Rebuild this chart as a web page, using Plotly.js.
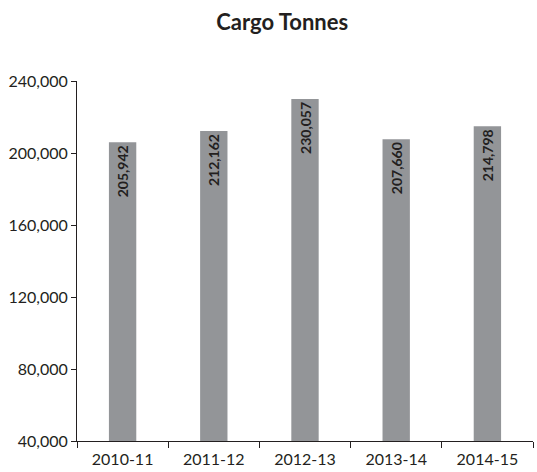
<!DOCTYPE html>
<html>
<head>
<meta charset="utf-8">
<script src="https://cdn.plot.ly/plotly-3.0.1.min.js"></script>
<style>html,body{margin:0;padding:0;background:#fff;}#chart{width:537px;height:472px;}</style>
</head>
<body>
<div id="chart"></div>
<script>
var categories = ["2010-11", "2011-12", "2012-13", "2013-14", "2014-15"];
var cargoTonnes = [205942, 212162, 230057, 207660, 214798];
var barLabels = ["205,942", "212,162", "230,057", "207,660", "214,798"];
var yTickValues = [40000, 80000, 120000, 160000, 200000, 240000];

var font = "Lato, 'Open Sans', sans-serif";
var trace = {
  type: "bar",
  x: categories,
  y: cargoTonnes,
  text: barLabels,
  textposition: "inside",
  insidetextanchor: "end",
  textangle: -90,
  textfont: {family: font, size: 14, color: "#231f20", weight: "bold"},
  marker: {color: "#939598", line: {width: 0}},
  width: 0.3,
  hoverinfo: "none",
  cliponaxis: true
};
var layout = {
  width: 537, height: 472,
  margin: {l: 77, r: 4, t: 81, b: 31, pad: 0},
  paper_bgcolor: "#fff", plot_bgcolor: "#fff",
  showlegend: false,
  font: {family: font, color: "#231f20", size: 16},
  title: {text: "<b>Cargo Tonnes</b>", font: {family: font, size: 22, color: "#231f20"},
          x: 0.45, xref: "paper", xanchor: "center", y: 0.952, yref: "container", yanchor: "middle"},
  xaxis: {
    type: "category", range: [-0.5, 4.5],
    showline: true, linecolor: "#231f20", linewidth: 1,
    ticks: "outside", tickson: "boundaries", ticklen: 6, tickcolor: "#231f20",
    ticklabelstandoff: 4,
    showgrid: false, zeroline: false,
    tickfont: {family: font, size: 16, color: "#231f20"}
  },
  yaxis: {
    range: [40000, 240000], tickvals: yTickValues, tickformat: ",",
    showline: true, linecolor: "#231f20", linewidth: 1,
    ticks: "outside", ticklen: 5, tickcolor: "#231f20",
    showgrid: false, zeroline: false,
    tickfont: {family: font, size: 16, color: "#231f20"}
  }
};
Plotly.newPlot("chart", [trace], layout, {displayModeBar: false, staticPlot: true});
</script>
</body>
</html>
